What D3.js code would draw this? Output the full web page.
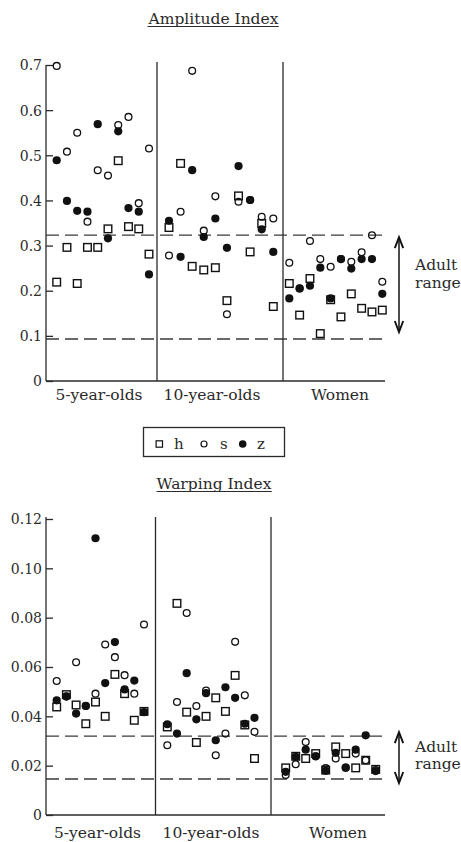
<!DOCTYPE html>
<html><head><meta charset="utf-8">
<script src="https://cdn.jsdelivr.net/npm/d3@7"></script>
<style>
body{margin:0;background:#fff}
svg{display:block}
text{font-family:"DejaVu Serif",serif;fill:#2a2a2a}
</style>
</head><body>
<svg id="c" width="461" height="842"></svg>
<script>
// ---------- DATA ----------
const groups = ["5-year-olds", "10-year-olds", "Women"];
const subjects = d3.range(1, 11);
const seriesKeys = ["h", "s", "z"];

// Amplitude index (h, s, z) per subject
const amp5_h  = [0.219, 0.296, 0.216, 0.296, 0.296, 0.337, 0.488, 0.342, 0.337, 0.281];
const amp5_s  = [0.698, 0.508, 0.550, 0.353, 0.467, 0.455, 0.567, 0.585, 0.394, 0.515];
const amp5_z  = [0.489, 0.399, 0.377, 0.375, 0.569, 0.316, 0.553, 0.383, 0.375, 0.236];
const amp10_h = [0.340, 0.482, 0.254, 0.246, 0.251, 0.178, 0.410, 0.286, 0.349, 0.165];
const amp10_s = [0.278, 0.375, 0.687, 0.333, 0.409, 0.148, 0.397, 0.401, 0.364, 0.360];
const amp10_z = [0.355, 0.275, 0.467, 0.319, 0.360, 0.295, 0.476, 0.401, 0.336, 0.286];
const ampW_h  = [0.216, 0.146, 0.227, 0.105, 0.180, 0.142, 0.193, 0.161, 0.153, 0.157];
const ampW_s  = [0.262, 0.205, 0.310, 0.270, 0.253, 0.270, 0.264, 0.285, 0.323, 0.220];
const ampW_z  = [0.183, 0.205, 0.211, 0.251, 0.183, 0.270, 0.249, 0.270, 0.270, 0.193];

// Warping index (h, s, z) per subject
const warp5_h  = [0.0438, 0.0488, 0.0446, 0.0370, 0.0458, 0.0400, 0.0570, 0.0492, 0.0384, 0.0420];
const warp5_s  = [0.0543, 0.0480, 0.0619, 0.0442, 0.0492, 0.0691, 0.0640, 0.0567, 0.0492, 0.0772];
const warp5_z  = [0.0465, 0.0481, 0.0411, 0.0442, 0.1122, 0.0535, 0.0701, 0.0509, 0.0545, 0.0417];
const warp10_h = [0.0357, 0.0858, 0.0417, 0.0294, 0.0400, 0.0475, 0.0420, 0.0566, 0.0365, 0.0229];
const warp10_s = [0.0283, 0.0458, 0.0819, 0.0442, 0.0505, 0.0242, 0.0330, 0.0702, 0.0485, 0.0337];
const warp10_z = [0.0368, 0.0330, 0.0575, 0.0388, 0.0494, 0.0303, 0.0518, 0.0475, 0.0370, 0.0394];
const warpW_h  = [0.0191, 0.0238, 0.0229, 0.0249, 0.0182, 0.0276, 0.0249, 0.0191, 0.0222, 0.0185];
const warpW_s  = [0.0162, 0.0206, 0.0296, 0.0238, 0.0190, 0.0229, 0.0192, 0.0249, 0.0222, 0.0182];
const warpW_z  = [0.0175, 0.0236, 0.0265, 0.0238, 0.0179, 0.0252, 0.0192, 0.0265, 0.0323, 0.0178];

const ampTicks = [0, 0.1, 0.2, 0.3, 0.4, 0.5, 0.6, 0.7];
const ampTickLabels = ["0", "0.1", "0.2", "0.3", "0.4", "0.5", "0.6", "0.7"];
const warpTicks = [0, 0.02, 0.04, 0.06, 0.08, 0.10, 0.12];
const warpTickLabels = ["0", "0.02", "0.04", "0.06", "0.08", "0.10", "0.12"];

const ampAdult = [0.093, 0.323];
const warpAdult = [0.0146, 0.032];

const titles = ["Amplitude Index", "Warping Index"];
const adultLabel = ["Adult", "range"];

// ---------- DRAW ----------
const svg = d3.select("#c");
const ink = "#2a2a2a";

function panel(o) {
  const g = svg.append("g");
  const y = d3.scaleLinear().domain(o.domain).range([o.yBottom, o.yTop]);

  // title
  const t = g.append("text").attr("x", o.titleX).attr("y", o.titleY)
    .attr("text-anchor", "middle").attr("font-size", 15.5).text(o.title);
  const bb = t.node().getBBox();
  g.append("line").attr("x1", bb.x).attr("x2", bb.x + bb.width)
    .attr("y1", o.titleY + 2.5).attr("y2", o.titleY + 2.5)
    .attr("stroke", ink).attr("stroke-width", 1);

  // adult range dashed lines
  g.selectAll("line.adult").data(o.adult).join("line")
    .attr("x1", o.xL).attr("x2", o.xR)
    .attr("y1", d => y(d)).attr("y2", d => y(d))
    .attr("stroke", "#3a3a3a").attr("stroke-width", 1.3)
    .attr("stroke-dasharray", "13,6");

  // group dividers
  g.selectAll("line.div").data(o.dividers).join("line")
    .attr("x1", d => d).attr("x2", d => d)
    .attr("y1", o.divTop).attr("y2", o.yBottom)
    .attr("stroke", ink).attr("stroke-width", 1.3);

  // bottom line
  g.append("line").attr("x1", o.xL).attr("x2", o.xR)
    .attr("y1", o.yBottom).attr("y2", o.yBottom)
    .attr("stroke", ink).attr("stroke-width", 1.3);

  // y axis
  const axis = d3.axisLeft(y).tickValues(o.ticks)
    .tickFormat((d, i) => o.tickLabels[i])
    .tickSizeInner(-7).tickSizeOuter(0).tickPadding(4);
  const ax = g.append("g").attr("transform", `translate(${o.xL},0)`).call(axis);
  ax.attr("font-family", null).attr("font-size", 14);
  ax.select(".domain").attr("stroke", ink).attr("stroke-width", 1.3)
    .attr("d", `M0,${o.yBottom}V${o.axisTop}`);
  ax.selectAll(".tick line").attr("stroke", ink).attr("stroke-width", 1.3);
  ax.selectAll(".tick text").attr("fill", ink).attr("dy", "0.35em");

  // category labels
  g.selectAll("text.cat").data(groups).join("text")
    .attr("x", (d, i) => o.catX[i]).attr("y", o.catY)
    .attr("text-anchor", "middle").attr("font-size", 15.5).text(d => d);

  // points
  const layers = { h: [], s: [], z: [] };
  o.data.forEach((grp, gi) => {
    const xs = d3.scalePoint().domain(subjects).range(o.xr[gi]);
    seriesKeys.forEach(k => {
      grp[k].forEach((v, i) => layers[k].push({ x: xs(subjects[i]), v }));
    });
  });
  const sq = 7.6;
  g.selectAll("rect.h").data(layers.h).join("rect")
    .attr("x", d => d.x - sq / 2).attr("y", d => y(d.v) - sq / 2)
    .attr("width", sq).attr("height", sq)
    .attr("fill", "none").attr("stroke", "#111").attr("stroke-width", 1.4);
  g.selectAll("circle.s").data(layers.s).join("circle")
    .attr("cx", d => d.x).attr("cy", d => y(d.v)).attr("r", 3.4)
    .attr("fill", "none").attr("stroke", "#111").attr("stroke-width", 1.3);
  g.selectAll("circle.z").data(layers.z).join("circle")
    .attr("cx", d => d.x).attr("cy", d => y(d.v)).attr("r", 4.1)
    .attr("fill", "#111");

  // adult range arrow
  const ay1 = y(o.adult[1]) + o.arrowPad[0], ay2 = y(o.adult[0]) + o.arrowPad[1];
  const ahx = o.arrowX;
  g.append("line").attr("x1", ahx).attr("x2", ahx).attr("y1", ay1 + 1).attr("y2", ay2 - 1)
    .attr("stroke", "#111").attr("stroke-width", 1.5);
  g.append("path").attr("d", `M${ahx - 4.2},${ay1 + 11}L${ahx},${ay1}L${ahx + 4.2},${ay1 + 11}`)
    .attr("fill", "none").attr("stroke", "#111").attr("stroke-width", 1.9);
  g.append("path").attr("d", `M${ahx - 4.2},${ay2 - 11}L${ahx},${ay2}L${ahx + 4.2},${ay2 - 11}`)
    .attr("fill", "none").attr("stroke", "#111").attr("stroke-width", 1.9);
  g.selectAll("text.adult").data(adultLabel).join("text")
    .attr("x", o.adultTextX).attr("y", (d, i) => o.adultTextY[i])
    .attr("font-size", 15.5).text(d => d);
}

panel({
  title: titles[0], titleX: 213.5, titleY: 24,
  domain: [0, 0.7], yBottom: 381, yTop: 65, axisTop: 65, divTop: 62,
  xL: 46, xR: 385, dividers: [157, 283],
  ticks: ampTicks, tickLabels: ampTickLabels, adult: ampAdult,
  catX: [99, 212, 340], catY: 400,
  xr: [[56.7, 149], [169, 273.3], [289.3, 382.3]],
  data: [
    { h: amp5_h, s: amp5_s, z: amp5_z },
    { h: amp10_h, s: amp10_s, z: amp10_z },
    { h: ampW_h, s: ampW_s, z: ampW_z }
  ],
  arrowX: 399, arrowPad: [2, -7], adultTextX: 415, adultTextY: [270, 288]
});

panel({
  title: titles[1], titleX: 214, titleY: 489,
  domain: [0, 0.12], yBottom: 815, yTop: 519, axisTop: 517, divTop: 517,
  xL: 46, xR: 385, dividers: [155.5, 271],
  ticks: warpTicks, tickLabels: warpTickLabels, adult: warpAdult,
  catX: [97.5, 211, 338], catY: 838,
  xr: [[56.7, 144], [167.3, 254.5], [285.7, 375.7]],
  data: [
    { h: warp5_h, s: warp5_s, z: warp5_z },
    { h: warp10_h, s: warp10_s, z: warp10_z },
    { h: warpW_h, s: warpW_s, z: warpW_z }
  ],
  arrowX: 399, arrowPad: [-4, 4], adultTextX: 415, adultTextY: [752, 769]
});

// legend
const lg = svg.append("g");
lg.append("rect").attr("x", 143.5).attr("y", 427.5).attr("width", 141).attr("height", 29)
  .attr("fill", "none").attr("stroke", ink).attr("stroke-width", 1.3);
const legX = [159.3, 204, 242.7];
const legTextX = [174, 220, 257];
seriesKeys.forEach((k, i) => {
  if (k === "h") {
    lg.append("rect").attr("x", legX[i] - 3.2).attr("y", 444 - 3.2).attr("width", 6.4).attr("height", 6.4)
      .attr("fill", "none").attr("stroke", "#111").attr("stroke-width", 1.2);
  } else if (k === "s") {
    lg.append("circle").attr("cx", legX[i]).attr("cy", 444).attr("r", 3)
      .attr("fill", "none").attr("stroke", "#111").attr("stroke-width", 1.2);
  } else {
    lg.append("circle").attr("cx", legX[i]).attr("cy", 444).attr("r", 3.8).attr("fill", "#111");
  }
  lg.append("text").attr("x", legTextX[i]).attr("y", 449).attr("font-size", 15).text(k);
});
</script>
</body></html>
